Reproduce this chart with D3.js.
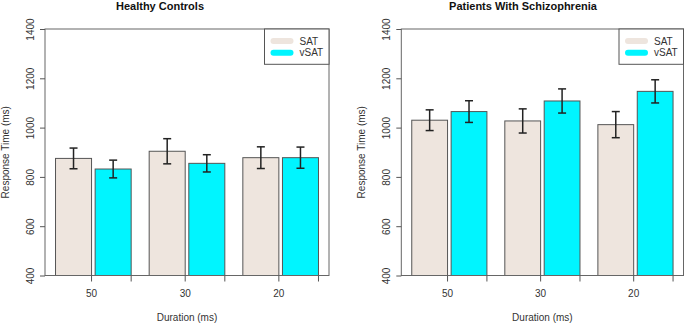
<!DOCTYPE html>
<html>
<head>
<meta charset="utf-8">
<script src="https://cdn.jsdelivr.net/npm/d3@7"></script>
<style>
  body { margin: 0; background: #fff; }
  svg { display: block; font-family: "Liberation Sans", Arial, sans-serif; }
</style>
</head>
<body>
<div class="canvas"></div>
<script>
const durations = ["50", "30", "20"];
const conditions = ["SAT", "vSAT"];
const yTicks = [400, 600, 800, 1000, 1200, 1400];

// mean response times (ms) and error bar half-widths
const controlsSAT = [875, 904, 878];
const controlsVSAT = [832, 855, 878];
const controlsSATErr = [42, 51, 44];
const controlsVSATErr = [36, 35, 43];

const patientsSAT = [1030, 1027, 1012];
const patientsVSAT = [1065, 1108, 1147];
const patientsSATErr = [42, 49, 53];
const patientsVSATErr = [44, 49, 47];

const colors = { SAT: "#EEE5DE", vSAT: "#00F5FF" };

const w = 685;
const h = 323;

const svg = d3
  .select(".canvas")
  .append("svg")
  .attr("width", w)
  .attr("height", h);

const panels = [
  {
    title: "Healthy Controls",
    titleX: 160,
    left: 45,
    right: 329,
    SAT: controlsSAT,
    vSAT: controlsVSAT,
    SATErr: controlsSATErr,
    vSATErr: controlsVSATErr
  },
  {
    title: "Patients With Schizophrenia",
    titleX: 523,
    left: 401.3,
    right: 683.5,
    SAT: patientsSAT,
    vSAT: patientsVSAT,
    SATErr: patientsSATErr,
    vSATErr: patientsVSATErr
  }
];

const plotTop = 29;
const plotBottom = 275.5;

panels.forEach(p => {
  const g = svg.append("g");

  // y scale
  const y = d3.scaleLinear().domain([400, 1400]).range([plotBottom, plotTop]);

  // bars span the box minus R's 4% padding on each side
  const span = (p.right - p.left) / 1.08;
  const inset = (p.right - p.left - span) / 2;

  const x = d3
    .scaleBand()
    .domain(durations)
    .range([p.left + inset, p.right - inset])
    .paddingInner(0.5 / 2.6)
    .paddingOuter(0);

  const xc = d3
    .scaleBand()
    .domain(conditions)
    .range([0, x.bandwidth()])
    .paddingInner(0.1 / 1.1)
    .paddingOuter(0);

  const rows = [];
  durations.forEach((d, i) => {
    conditions.forEach(c => {
      rows.push({ duration: d, cond: c, value: p[c][i], err: p[c + "Err"][i] });
    });
  });

  // bars
  g.selectAll("rect.bar")
    .data(rows)
    .enter()
    .append("rect")
    .attr("class", "bar")
    .attr("x", d => x(d.duration) + xc(d.cond))
    .attr("width", xc.bandwidth())
    .attr("y", d => y(d.value))
    .attr("height", d => y(400) - y(d.value))
    .attr("fill", d => colors[d.cond])
    .attr("stroke", "#555")
    .attr("stroke-width", 1);

  // error bars
  const eb = g
    .selectAll("g.err")
    .data(rows)
    .enter()
    .append("g")
    .attr("class", "err")
    .attr("stroke", "#222")
    .attr("stroke-width", 1.5);
  const cx = d => x(d.duration) + xc(d.cond) + xc.bandwidth() / 2;
  eb.append("line")
    .attr("x1", cx)
    .attr("x2", cx)
    .attr("y1", d => y(d.value + d.err))
    .attr("y2", d => y(d.value - d.err));
  eb.append("line")
    .attr("x1", d => cx(d) - 4)
    .attr("x2", d => cx(d) + 4)
    .attr("y1", d => y(d.value + d.err))
    .attr("y2", d => y(d.value + d.err));
  eb.append("line")
    .attr("x1", d => cx(d) - 4)
    .attr("x2", d => cx(d) + 4)
    .attr("y1", d => y(d.value - d.err))
    .attr("y2", d => y(d.value - d.err));

  // plot box
  g.append("rect")
    .attr("x", p.left)
    .attr("y", plotTop)
    .attr("width", p.right - p.left)
    .attr("height", plotBottom - plotTop)
    .attr("fill", "none")
    .attr("stroke", "#666")
    .attr("stroke-width", 1);

  // y axis
  const yAxis = d3.axisLeft(y).tickValues(yTicks).tickSize(5).tickPadding(0).tickFormat(d3.format("d"));
  const yAxisGroup = g
    .append("g")
    .attr("transform", `translate(${p.left}, 0)`)
    .call(yAxis);
  yAxisGroup.select(".domain").remove();
  yAxisGroup.selectAll(".tick line").attr("stroke", "#555");
  yAxisGroup
    .selectAll(".tick text")
    .attr("x", 0)
    .attr("y", 0)
    .attr("dy", 0)
    .attr("transform", "translate(-15, 0) rotate(-90)")
    .attr("text-anchor", "middle")
    .attr("dominant-baseline", "central")
    .attr("fill", "#333")
    .style("font-size", "10px");

  // x axis ticks at each bar's right edge, labels on the first bar
  const tickPos = rows.map(d => x(d.duration) + xc(d.cond) + xc.bandwidth());
  g.selectAll("line.xtick")
    .data(tickPos)
    .enter()
    .append("line")
    .attr("class", "xtick")
    .attr("x1", d => d)
    .attr("x2", d => d)
    .attr("y1", plotBottom)
    .attr("y2", plotBottom + 6)
    .attr("stroke", "#555");
  g.selectAll("text.xlab")
    .data(durations)
    .enter()
    .append("text")
    .attr("class", "xlab")
    .attr("x", d => x(d) + xc("SAT") + xc.bandwidth())
    .attr("y", 297)
    .attr("text-anchor", "middle")
    .attr("fill", "#333")
    .style("font-size", "10px")
    .text(d => d);

  // axis titles
  g.append("text")
    .attr("x", (p.left + p.right) / 2)
    .attr("y", 321)
    .attr("text-anchor", "middle")
    .attr("fill", "#333")
    .style("font-size", "10px")
    .text("Duration (ms)");
  g.append("text")
    .attr("transform", `translate(${p.left - 40}, ${(plotTop + plotBottom) / 2}) rotate(-90)`)
    .attr("text-anchor", "middle")
    .attr("dominant-baseline", "central")
    .attr("fill", "#333")
    .style("font-size", "10px")
    .text("Response Time (ms)");

  // title
  g.append("text")
    .attr("x", p.titleX)
    .attr("y", 9.5)
    .attr("text-anchor", "middle")
    .attr("fill", "#111")
    .style("font-size", "11px")
    .style("font-weight", "bold")
    .text(p.title);

  // legend
  const lg = g.append("g").attr("transform", `translate(${p.right - 64.5}, ${plotTop})`);
  lg.append("rect")
    .attr("width", 64.5)
    .attr("height", 35.3)
    .attr("fill", "#fff")
    .attr("stroke", "#555");
  conditions.forEach((c, i) => {
    const ly = 12 + i * 11.7;
    lg.append("line")
      .attr("x1", 9)
      .attr("x2", 26)
      .attr("y1", ly)
      .attr("y2", ly)
      .attr("stroke", colors[c])
      .attr("stroke-width", 6)
      .attr("stroke-linecap", "round");
    lg.append("text")
      .attr("x", 35)
      .attr("y", ly)
      .attr("dominant-baseline", "central")
      .attr("fill", "#333")
      .style("font-size", "10px")
      .text(c);
  });
});
</script>
</body>
</html>
